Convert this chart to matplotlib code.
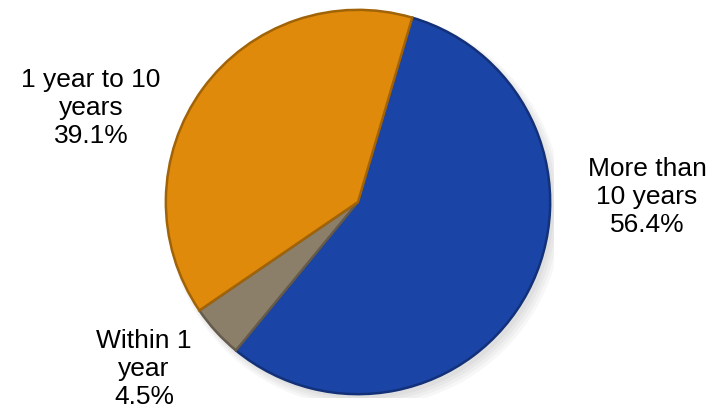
import matplotlib
matplotlib.use("Agg")
import matplotlib.pyplot as plt
from matplotlib.colors import to_rgb

plt.rcParams['font.family'] = ['Liberation Sans', 'DejaVu Sans']

categories = ["More than\n10 years", "Within 1\nyear", "1 year to 10\nyears"]
shares = [56.4, 4.5, 39.1]
colors = ["#1a44a6", "#8c7f6a", "#df8a0a"]
label_pos = [(647, 197), (144, 369), (91, 108)]  # label centres in pixels

W, H = 717, 417
fig = plt.figure(figsize=(W / 100, H / 100), dpi=100)
cx, cy, r = 358, 202, 196
ax = fig.add_axes([(cx - r) / W, (H - cy - r) / H, 2 * r / W, 2 * r / H])


def darker(c, f):
    rgb = to_rgb(c)
    return tuple(v * f for v in rgb)


# soft shadow under the pie
for i in range(4):
    sh = plt.Circle((0.02 + 0.005 * i, -0.025 - 0.005 * i), 1.0 + 0.01 * i,
                    color="black", alpha=0.03, lw=0, zorder=0)
    ax.add_patch(sh)

wedges, _ = ax.pie(shares, colors=colors, startangle=73.6, counterclock=False,
                   radius=1.0,
                   wedgeprops=dict(linewidth=1.8, edgecolor="none"))
for w, c in zip(wedges, colors):
    w.set_edgecolor(darker(c, 0.72))
    w.set_zorder(2)

# light bevel just inside the rim
ax.pie(shares, colors=["none"] * 3, startangle=73.6, counterclock=False,
       radius=0.975,
       wedgeprops=dict(linewidth=1.2, edgecolor=(1, 1, 1, 0.18), fill=False))

ax.set_xlim(-1.02, 1.02)
ax.set_ylim(-1.02, 1.02)
ax.set_aspect("equal")
ax.axis("off")

for lab, pct, (px, py) in zip(categories, shares, label_pos):
    fig.text(px / W, 1 - py / H, f"{lab}\n{pct:.1f}%", ha="center", va="center",
             fontsize=19, color="black", linespacing=1.2)

fig.savefig("out.png", dpi=100, facecolor="white")
